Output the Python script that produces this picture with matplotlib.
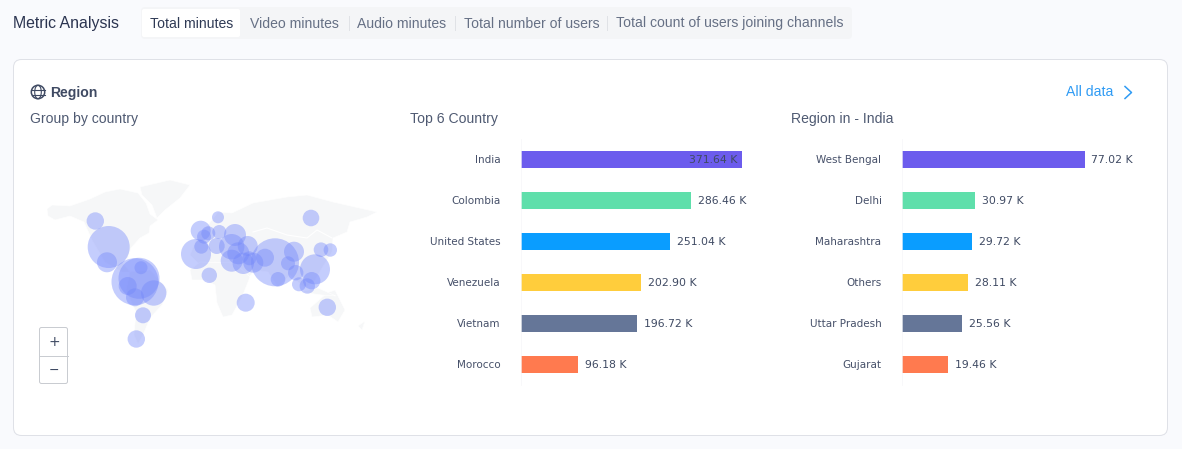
import numpy as np
import matplotlib
matplotlib.use("Agg")
import matplotlib.pyplot as plt
from matplotlib.patches import FancyBboxPatch, Polygon, Circle, Ellipse

W, H = 1182, 449

tabs = ["Total minutes", "Video minutes", "Audio minutes", "Total number of users",
        "Total count of users joining channels"]
tab_x = [150, 250, 357, 464, 616]
tab_sep_x = [349, 455, 607]

countries = ["India", "Colombia", "United States", "Venezuela", "Vietnam", "Morocco"]
country_values = [371.64, 286.46, 251.04, 202.90, 196.72, 96.18]
regions = ["West Bengal", "Delhi", "Maharashtra", "Others", "Uttar Pradesh", "Gujarat"]
region_values = [77.02, 30.97, 29.72, 28.11, 25.56, 19.46]
bar_colors = ["#6c5ced", "#5fdfab", "#0a9dff", "#ffcd3c", "#657698", "#ff7a4f"]

# bubbles in map units
bubble_x = [95.3, 108.7, 107, 135, 139, 141, 127.7, 135, 153.7, 143, 136.3,
            196, 200.7, 218, 201.3, 208.3, 204, 219.3, 216.7, 235, 231.7, 247.7,
            231.7, 238.3, 243.3, 249.3, 253.3, 209.3, 275, 265, 278, 294, 288,
            295.7, 315, 311, 321, 330.3, 311.7, 299, 307.3, 245.7, 327.3]
bubble_y = [221, 247, 262.3, 281.7, 278.3, 267.7, 286, 297.3, 293, 315.3, 339,
            254, 230.7, 217.3, 246.7, 233.3, 236.7, 232, 246, 235, 246.7, 246,
            260.7, 253.3, 263.3, 258.3, 262.7, 275.3, 262.3, 257.7, 279.3, 251.7, 263.3,
            272.7, 269.3, 218, 249.7, 250, 280.7, 284.3, 286, 302.7, 307.3]
bubble_r = [8.7, 21, 10, 23.5, 20.5, 6.5, 9, 9, 12.7, 8, 8.7,
            15, 10, 6, 7, 7, 7, 7, 8, 11, 12.7, 10,
            11, 11, 10.7, 7, 10, 7.7, 24, 9, 7.3, 10, 7,
            7.7, 15, 8.3, 7.3, 6.7, 8.7, 7, 7.7, 9, 8.7]

# rough land shapes, same map units
north_america = [(47, 209), (52, 205), (70, 206), (90, 199), (105, 192), (120, 189), (138, 193),
                 (146, 203), (150, 214), (158, 220), (150, 226), (149, 233), (140, 238), (131, 248),
                 (128, 258), (122, 262), (130, 272), (122, 272), (105, 262), (92, 240), (84, 222),
                 (70, 216), (55, 220), (48, 216)]
south_america = [(130, 272), (150, 270), (168, 290), (162, 305), (150, 318), (143, 335), (138, 344),
                 (134, 335), (136, 312), (126, 290)]
greenland = [(140, 187), (170, 180), (190, 185), (180, 198), (165, 210), (157, 218), (152, 205), (142, 195)]
eurasia = [(190, 255), (198, 236), (208, 225), (218, 212), (232, 213), (253, 203), (287, 197), (307, 195),
           (333, 202), (377, 212), (367, 217), (350, 222), (347, 232), (333, 238), (332, 252), (322, 268),
           (315, 280), (305, 288), (298, 282), (290, 275), (278, 287), (268, 272), (255, 270), (248, 278),
           (235, 265), (215, 262), (200, 265)]
africa = [(190, 270), (200, 262), (235, 263), (250, 277), (242, 297), (232, 315), (223, 317), (217, 303),
          (215, 285), (205, 280), (192, 280)]
australia = [(310, 308), (327, 293), (335, 290), (345, 310), (338, 322), (328, 315), (312, 317)]
islands = [(300, 292), (318, 288), (336, 296), (322, 295)]
new_zealand = [(358, 326), (365, 321), (362, 330)]
land_shapes = [north_america, south_america, greenland, eurasia, africa, australia, islands, new_zealand]
border_x = [253, 267, 287, 307, 317, 332]
border_y = [232, 228, 235, 238, 230, 238]

ink = "#3f4a63"
fig = plt.figure(figsize=(W / 100, H / 100), dpi=100, facecolor="#f9fafd")


def px_axes(x0, y0, x1, y1, **kw):
    return fig.add_axes([x0 / W, 1 - y1 / H, (x1 - x0) / W, (y1 - y0) / H], **kw)


def rounded(ax, x0, y0, x1, y1, r, **kw):
    ax.add_patch(FancyBboxPatch((x0 + r, y0 + r), x1 - x0 - 2 * r, y1 - y0 - 2 * r,
                                boxstyle=f"round,pad={r},rounding_size={r}", **kw))


# page furniture, in pixels
bg = px_axes(0, 0, W, H)
bg.set_xlim(0, W)
bg.set_ylim(H, 0)
bg.axis("off")
rounded(bg, 13.5, 59.5, 1167.5, 435.5, 8, fc="white", ec="#dfe1e7", lw=0.72)
rounded(bg, 141, 7, 852, 39, 4, fc="#f4f5f7", ec="none")
rounded(bg, 142, 9, 240, 37, 2, fc="white", ec="none")

sans = "Liberation Sans"
bg.text(13, 23.5, "Metric Analysis", fontsize=11.4, color="#2b3450", family=sans, va="center")
for i, (t, x) in enumerate(zip(tabs, tab_x)):
    bg.text(x, 23.5, t, fontsize=10.05, color="#2f3a55" if i == 0 else "#667085", family=sans, va="center")
for x in tab_sep_x:
    bg.plot([x, x], [16, 30], color="#e0e2e6", lw=0.72)

bg.add_patch(Circle((38, 92), 6.7, fc="none", ec=ink, lw=1.1))
bg.add_patch(Ellipse((38, 92), 6.6, 13.4, fc="none", ec=ink, lw=0.8))
bg.plot([31.5, 44.5], [89.5, 89.5], color=ink, lw=0.8)
bg.plot([31.5, 44.5], [94.5, 94.5], color=ink, lw=0.8)
bg.text(50, 92.5, "Region", fontsize=10.1, fontweight="bold", color=ink, family=sans, va="center")
bg.text(30.5, 118.5, "Group by country", fontsize=10.05, color="#4f5a72", family=sans, va="center")
bg.text(410.5, 118.5, "Top 6 Country", fontsize=10.05, color="#4f5a72", family=sans, va="center")
bg.text(791, 118.5, "Region in - India", fontsize=10.05, color="#4f5a72", family=sans, va="center")
bg.text(1066, 92.5, "All data", fontsize=10.05, color="#2f9bf4", family=sans, va="center")
bg.plot([1125, 1131.5, 1125], [86.5, 92.5, 98.5], color="#2f9bf4", lw=1.1)

# world map with bubbles
m = px_axes(30, 170, 390, 350)
m.set_xlim(30, 390)
m.set_ylim(350, 170)
m.axis("off")
for shape in land_shapes:
    m.add_patch(Polygon(shape, closed=True, fc="#f6f7f8", ec="white", lw=0.4))
m.plot(border_x, border_y, color="white", lw=0.8)
sizes = (2 * np.array(bubble_r) * 0.72) ** 2
m.scatter(bubble_x, bubble_y, s=sizes, color="#7488fb", alpha=0.42, linewidths=0)

# zoom control
rounded(bg, 39.5, 327.5, 67.5, 383.5, 2, fc="white", ec="#c9ccd1", lw=0.72)
bg.plot([39.5, 67.5], [355.5, 355.5], color="#c9ccd1", lw=0.72)
zoom_ax = px_axes(39, 327, 68, 384, zorder=3)
zoom_ax.set_xlim(39, 68)
zoom_ax.set_ylim(384, 327)
zoom_ax.axis("off")
zoom_ax.text(54, 342, "+", fontsize=10, color=ink, ha="center", va="center")
zoom_ax.text(53.5, 370, "−", fontsize=9, color=ink, ha="center", va="center")


def hbar(x0, x1, names, values):
    ax = px_axes(x0, 138.5, x1, 384.5)
    ax.patch.set_visible(False)
    pos = np.arange(len(names))
    ax.barh(pos, values, height=17 / 41, color=bar_colors)
    ax.set_xlim(0, max(values))
    ax.set_ylim(len(names) - 0.5, -0.5)
    ax.set_yticks(pos, names)
    ax.set_xticks([])
    ax.tick_params(axis="y", length=0, pad=14.4, labelsize=7.5, labelcolor="#465069")
    for s in ["top", "right", "bottom"]:
        ax.spines[s].set_visible(False)
    ax.spines["left"].set_color("#f6f6f8")
    ax.spines["left"].set_linewidth(0.5)
    for i, v in enumerate(values):
        # the longest bar of the first panel keeps its label inside
        if v > 300:
            ax.annotate(f"{v:.2f} K", (v, i), xytext=(-3, -0.5), textcoords="offset points",
                        ha="right", va="center", fontsize=7.8, color=ink)
        else:
            ax.annotate(f"{v:.2f} K", (v, i), xytext=(5, -0.5), textcoords="offset points",
                        ha="left", va="center", fontsize=7.8, color=ink, annotation_clip=False)
    return ax


hbar(520.5, 741.5, countries, country_values)
hbar(901.5, 1084.5, regions, region_values)

fig.savefig("out.png", dpi=100, facecolor=fig.get_facecolor())
